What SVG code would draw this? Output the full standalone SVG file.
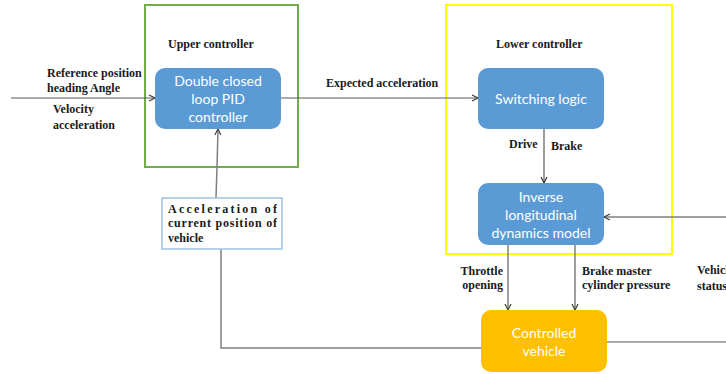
<svg xmlns="http://www.w3.org/2000/svg" width="726" height="374" viewBox="0 0 726 374">
<style>
.lbl{font-family:"Liberation Serif","Times New Roman",serif;font-weight:bold;font-size:12px;fill:#1a1a1a}
.nt{font-family:Lato,"Open Sans",sans-serif;font-size:14px;fill:#ffffff;text-anchor:middle}
.blue{fill:#5b9bd5}
.ln{stroke:#595959;stroke-width:1.2;fill:none}
.fb{stroke:#7f7f7f;stroke-width:1.5;fill:none}
</style>
<defs>
<marker id="ah" markerUnits="userSpaceOnUse" markerWidth="8" markerHeight="8" viewBox="0 0 8 8" refX="7" refY="4" orient="auto">
<path d="M1,1 L7,4 L1,7" fill="none" stroke="#404040" stroke-width="1.2"/>
</marker>
</defs>
<rect width="726" height="374" fill="#ffffff"/>
<g id="upper-group">
<rect x="145" y="5" width="153" height="162" fill="none" stroke="#70ad47" stroke-width="2"/>
<text class="lbl" x="168" y="48">Upper controller</text>
</g>
<g id="lower-group">
<rect x="446" y="5" width="226" height="249" fill="none" stroke="#ffff00" stroke-width="2"/>
<text class="lbl" x="496" y="48">Lower controller</text>
</g>
<g id="connectors">
<line class="ln" x1="11" y1="98" x2="155" y2="98" marker-end="url(#ah)"/>
<line class="ln" x1="281" y1="98" x2="478" y2="98" marker-end="url(#ah)"/>
<line class="ln" x1="544" y1="129" x2="544" y2="183" marker-end="url(#ah)"/>
<line class="fb" x1="508" y1="245" x2="508" y2="310" marker-end="url(#ah)"/>
<line class="fb" x1="575" y1="245" x2="575" y2="310" marker-end="url(#ah)"/>
<line class="fb" x1="726" y1="217" x2="604" y2="217" marker-end="url(#ah)"/>
<line class="ln" x1="607" y1="342" x2="726" y2="342"/>
<polyline class="fb" points="221,249 221,348 481,348"/>
<polyline class="fb" points="216,198 217,167 218,129" marker-end="url(#ah)"/>
</g>
<g id="input-labels">
<text class="lbl" x="47" y="77">Reference position</text>
<text class="lbl" x="47" y="92">heading Angle</text>
<text class="lbl" x="53" y="113">Velocity</text>
<text class="lbl" x="53" y="129">acceleration</text>
<text class="lbl" x="326" y="87">Expected acceleration</text>
<text class="lbl" x="509" y="148">Drive</text>
<text class="lbl" x="551" y="150">Brake</text>
<text class="lbl" x="503" y="275" text-anchor="end">Throttle</text>
<text class="lbl" x="503" y="289" text-anchor="end">opening</text>
<text class="lbl" x="582" y="275">Brake master</text>
<text class="lbl" x="582" y="289">cylinder pressure</text>
<text class="lbl" x="697" y="274">Vehicle</text>
<text class="lbl" x="697" y="290">status</text>
</g>
<g id="pid">
<rect class="blue" x="155" y="68" width="126" height="61" rx="10"/>
<text class="nt" x="218" y="86">Double closed</text>
<text class="nt" x="218" y="104">loop PID</text>
<text class="nt" x="218" y="122">controller</text>
</g>
<g id="switching">
<rect class="blue" x="478" y="68" width="126" height="61" rx="10"/>
<text class="nt" x="541" y="104">Switching logic</text>
</g>
<g id="inverse">
<rect class="blue" x="478" y="183" width="126" height="62" rx="10"/>
<text class="nt" x="541" y="202">Inverse</text>
<text class="nt" x="541" y="220">longitudinal</text>
<text class="nt" x="541" y="238">dynamics model</text>
</g>
<g id="vehicle">
<rect x="481" y="310" width="126" height="62" rx="10" fill="#ffc000"/>
<text class="nt" x="544" y="338">Controlled</text>
<text class="nt" x="544" y="356">vehicle</text>
</g>
<g id="feedback-box">
<rect x="162" y="198" width="120" height="51" fill="#ffffff" stroke="#9dc3e6" stroke-width="1.5"/>
<text class="lbl" x="168" y="213" textLength="109" lengthAdjust="spacing">Acceleration of</text>
<text class="lbl" x="168" y="227" textLength="109" lengthAdjust="spacing">current position of</text>
<text class="lbl" x="168" y="242">vehicle</text>
</g>
</svg>
